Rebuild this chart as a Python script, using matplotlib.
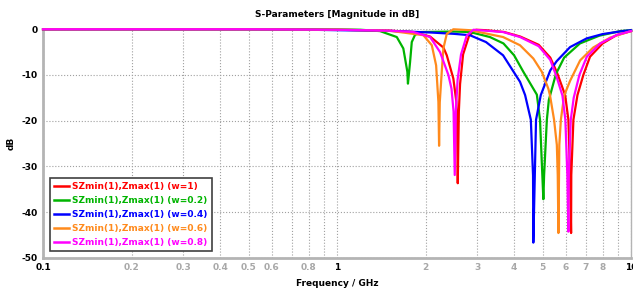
import numpy as np
import matplotlib.pyplot as plt
from matplotlib.ticker import FixedLocator

# values (frequency in GHz, magnitude in dB)
f_w1 = [0.1, 0.5, 1.0, 1.5, 1.818, 2.072, 2.30, 2.361, 2.486, 2.545, 2.56, 2.573,
        2.595, 2.62, 2.683, 2.812, 2.97, 3.2, 3.7, 4.2, 4.85, 5.31, 5.6, 5.965,
        6.12, 6.20, 6.25, 6.26, 6.365, 6.57, 6.88, 7.25, 8.0, 8.94, 10.0]
s_w1 = [0.0, 0.0, -0.1, -0.3, -0.6, -1.6, -4.0, -5.7, -10.8, -15.9, -20.0, -33.7,
        -18.0, -12.0, -5.5, -1.4, -0.1, -0.2, -0.6, -1.6, -3.4, -6.2, -9.5, -14.4,
        -19.8, -31.9, -44.6, -31.9, -19.8, -14.4, -10.0, -6.0, -3.1, -1.25, -0.4]

f_w02 = [0.1, 0.5, 1.0, 1.2, 1.40, 1.596, 1.68, 1.734, 1.742, 1.771, 1.795, 1.842,
         1.942, 2.5, 2.83, 3.31, 3.68, 4.0, 4.30, 4.65, 4.78, 4.90, 4.99, 5.03,
         5.06, 5.17, 5.25, 5.55, 5.92, 6.7, 7.8, 9.18, 10.0]
s_w02 = [0.0, 0.0, -0.05, -0.1, -0.4, -1.7, -4.2, -9.3, -11.9, -7.2, -2.8, -1.2,
         -0.6, -0.5, -0.6, -1.7, -3.1, -5.7, -9.3, -13.0, -14.3, -19.8, -31.9, -37.2,
         -31.9, -19.8, -15.5, -9.8, -6.2, -3.1, -1.4, -0.4, -0.2]

f_w04 = [0.1, 0.5, 0.8, 1.0, 1.5, 2.07, 2.5, 2.83, 3.21, 3.67, 4.19, 4.36, 4.56,
         4.64, 4.65, 4.75, 4.93, 5.31, 5.58, 6.2, 7.06, 8.0, 9.35, 10.0]
s_w04 = [0.0, 0.0, -0.1, -0.2, -0.35, -0.7, -1.0, -1.3, -2.8, -5.7, -11.5, -14.4, -19.8,
         -32.0, -46.7, -19.8, -14.4, -9.0, -7.0, -3.9, -2.0, -1.05, -0.4, -0.2]

f_w06 = [0.1, 0.5, 1.0, 1.5, 1.966, 2.10, 2.172, 2.211, 2.223, 2.235, 2.270, 2.299,
         2.361, 2.486, 2.83, 3.67, 4.19, 4.65, 4.97, 5.23, 5.30, 5.47, 5.59, 5.63,
         5.66, 5.70, 5.77, 5.92, 6.20, 6.71, 7.43, 8.5, 10.0]
s_w06 = [0.0, 0.0, -0.1, -0.3, -1.3, -3.5, -7.9, -15.9, -25.5, -16.0, -9.3, -4.2,
         -1.0, 0.0, -0.2, -1.7, -3.5, -6.4, -9.3, -13.0, -14.5, -19.8, -25.3, -31.9,
         -44.6, -25.3, -19.8, -14.5, -11.3, -6.8, -4.0, -1.8, -0.4]

f_w08 = [0.1, 0.5, 1.0, 1.5, 1.818, 2.072, 2.240, 2.391, 2.45, 2.49, 2.513, 2.535,
         2.57, 2.64, 2.76, 2.91, 3.67, 4.19, 4.85, 5.31, 5.58, 5.84, 5.976, 6.07,
         6.12, 6.14, 6.235, 6.38, 6.67, 7.07, 7.85, 8.94, 10.0]
s_w08 = [0.0, 0.0, -0.1, -0.3, -0.6, -1.7, -5.0, -10.0, -13.0, -18.0, -31.9, -18.0,
         -11.0, -5.5, -1.4, -0.1, -0.6, -1.7, -3.7, -6.7, -10.4, -14.5, -19.8, -31.9,
         -44.3, -31.9, -19.8, -15.0, -10.0, -6.0, -3.1, -1.25, -0.4]

labels = ["SZmin(1),Zmax(1) (w=1)", "SZmin(1),Zmax(1) (w=0.2)",
          "SZmin(1),Zmax(1) (w=0.4)", "SZmin(1),Zmax(1) (w=0.6)",
          "SZmin(1),Zmax(1) (w=0.8)"]
colors = ["#ff0000", "#00b400", "#0000ff", "#ff8a1c", "#ff00ff"]
series = [(f_w1, s_w1), (f_w02, s_w02), (f_w04, s_w04), (f_w06, s_w06), (f_w08, s_w08)]

major_x = [0.1, 1, 10]
major_x_labels = ["0.1", "1", "10"]
minor_x = [0.2, 0.3, 0.4, 0.5, 0.6, 0.7, 0.8, 0.9, 2, 3, 4, 5, 6, 7, 8, 9]
minor_x_labels = ["0.2", "0.3", "0.4", "0.5", "0.6", "", "0.8", "",
                  "2", "3", "4", "5", "6", "7", "8", ""]
y_ticks = [0, -10, -20, -30, -40, -50]

plt.rcParams['font.family'] = ['DejaVu Sans']
fig = plt.figure(figsize=(6.33, 2.91), dpi=100)
ax = fig.add_axes([0.068, 0.1144, 0.929, 0.785])

for (f, s), c, lab in zip(series, colors, labels):
    ax.plot(f, s, color=c, lw=1.6, label=lab, clip_on=False, zorder=3)

ax.set_xscale('log')
ax.set_xlim(0.1, 10)
ax.set_ylim(-50, 0)

ax.xaxis.set_major_locator(FixedLocator(major_x))
ax.xaxis.set_minor_locator(FixedLocator(minor_x))
ax.set_xticklabels(major_x_labels, fontweight='bold', fontsize=6.5)
ax.set_xticklabels(minor_x_labels, minor=True,
                   fontweight='bold', fontsize=6.5, color='#a8a8a8')
ax.set_yticks(y_ticks)
ax.set_yticklabels([str(v) for v in y_ticks], fontweight='bold', fontsize=6.5)
ax.tick_params(axis='both', which='both', length=0, pad=4)

ax.grid(True, which='both', axis='x', ls=':', color='#a0a0a0', lw=0.8)
ax.grid(True, which='major', axis='y', ls=':', color='#a0a0a0', lw=0.8)

for side in ['left', 'bottom']:
    ax.spines[side].set_color('#b4b4b4')
    ax.spines[side].set_linewidth(2)
ax.spines['top'].set_visible(False)
ax.spines['right'].set_color('#b4b4b4')
ax.spines['right'].set_linewidth(1)

ax.set_title("S-Parameters [Magnitude in dB]", fontsize=6.5, fontweight='bold', pad=9)
ax.set_xlabel("Frequency / GHz", fontsize=6.5, fontweight='bold', labelpad=5)
ax.set_ylabel("dB", fontsize=6.5, fontweight='bold', labelpad=4)

leg = ax.legend(loc='lower left', bbox_to_anchor=(0.012, 0.029), borderaxespad=0,
                prop={'weight': 'bold', 'size': 6.5}, fancybox=False,
                handlelength=1.6, handletextpad=0.4, labelspacing=0.55,
                borderpad=0.45, framealpha=1)
leg.get_frame().set_edgecolor('#404040')
leg.get_frame().set_linewidth(1.2)
for txt, c in zip(leg.get_texts(), colors):
    txt.set_color(c)
for h in leg.get_lines():
    h.set_linewidth(1.8)

plt.savefig("out.png", dpi=100)
